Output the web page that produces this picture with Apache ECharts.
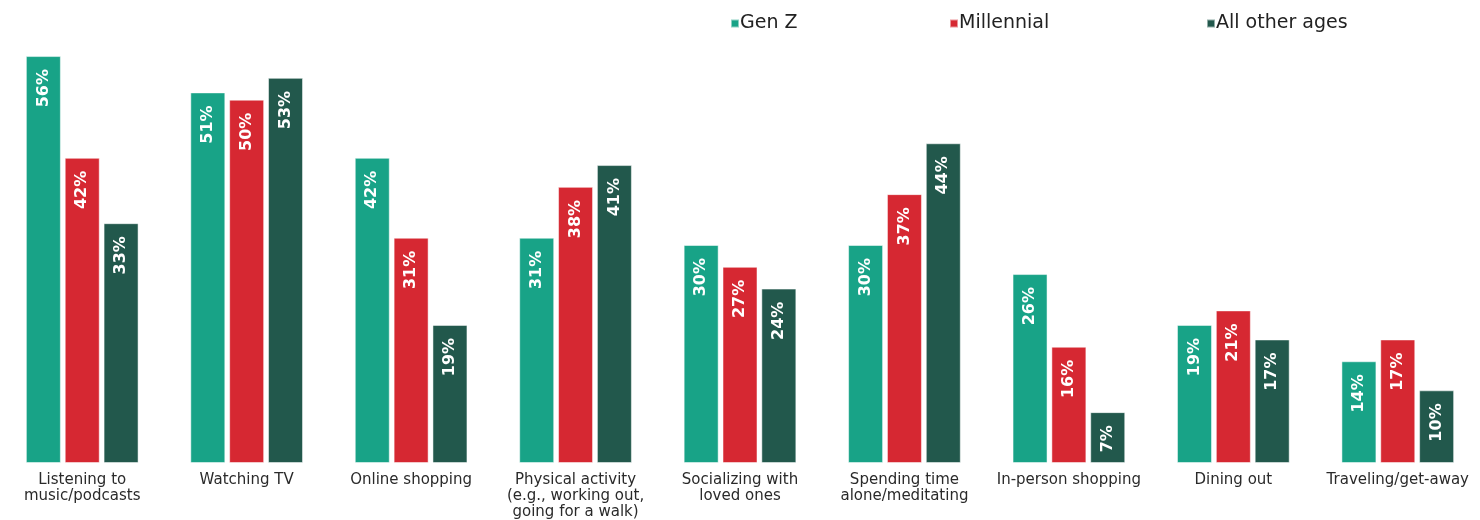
<!DOCTYPE html>
<html><head><meta charset="utf-8">
<script src="https://cdn.jsdelivr.net/npm/echarts@6/dist/echarts.min.js"></script>
<style>html,body{margin:0;padding:0;background:#fff}#c{width:1480px;height:520px}</style>
</head><body><div id="c"></div>
<script>
const categories = ["Listening to\nmusic/podcasts","Watching TV","Online shopping","Physical activity\n(e.g., working out,\ngoing for a walk)","Socializing with\nloved ones","Spending time\nalone/meditating","In-person shopping","Dining out","Traveling/get-away"];
const seriesNames = ["Gen Z","Millennial","All other ages"];
const genZ = [56,51,42,31,30,30,26,19,14];
const millennial = [42,50,31,38,27,37,16,21,17];
const otherAges = [33,53,19,41,24,44,7,17,10];
const colors = ["#18a387","#d62832","#22584c"];
const values = [genZ, millennial, otherAges];
const legendLeft = [725, 944, 1201];

const chart = echarts.init(document.getElementById('c'));
const font = "'DejaVu Sans', sans-serif";
chart.setOption({
  animation:false,
  textStyle:{fontFamily:font},
  legend: seriesNames.map((n,i)=>({
    left:legendLeft[i], top:9, itemWidth:8, itemHeight:8, icon:'rect',
    textStyle:{fontSize:19, color:'#222', fontFamily:font, padding:[0,0,0,-4]},
    data:[n]
  })),
  grid:{left:0, width:1483, top:27, bottom:57},
  xAxis:{type:'category', data:categories,
    axisLine:{show:false}, axisTick:{show:false},
    axisLabel:{fontSize:15, color:'#2a2a2a', margin:9, lineHeight:16, interval:0, fontFamily:font}},
  yAxis:{type:'value', min:0, max:60, show:false, splitLine:{show:false}},
  series: seriesNames.map((n,i)=>({
    name:n, type:'bar', data:values[i], barWidth:35, barGap:'11%',
    itemStyle:{color:colors[i], borderColor:'rgba(255,255,255,0.5)', borderWidth:1},
    label:{show:true, position:'insideTop', distance:13, rotate:90, align:'right', verticalAlign:'middle',
      formatter:'{c}%', color:'#fff', fontWeight:'bold', fontSize:16, fontFamily:font}
  }))
});
</script></body></html>
